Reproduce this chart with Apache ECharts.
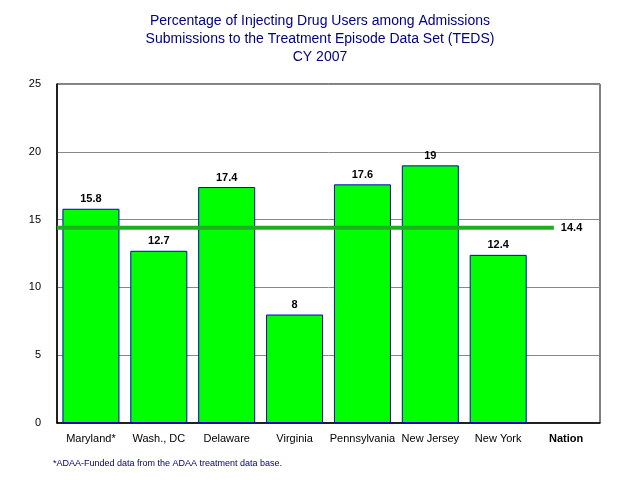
<!DOCTYPE html>
<html>
<head>
<meta charset="utf-8">
<script src="https://cdn.jsdelivr.net/npm/echarts@6/dist/echarts.min.js"></script>
<style>html,body{margin:0;padding:0;background:#fff}#c{width:640px;height:480px}</style>
</head>
<body>
<div id="c"></div>
<script>
const categories = ['Maryland*', 'Wash., DC', 'Delaware', 'Virginia', 'Pennsylvania', 'New Jersey', 'New York', 'Nation'];
const stateValues = [15.8, 12.7, 17.4, 8, 17.6, 19, 12.4, null];
const nationValue = 14.4;
const nationLineSpan = [0, 7.32];
const yTicks = [0, 5, 10, 15, 20, 25];
const titleLines = ['Percentage of Injecting Drug Users among Admissions', 'Submissions to the Treatment Episode Data Set (TEDS)', 'CY 2007'];
const footnote = '*ADAA-Funded data from the ADAA treatment data base.';

const font = 'Arial, "Liberation Sans", sans-serif';
const chart = echarts.init(document.getElementById('c'), null, {renderer: 'canvas'});
chart.setOption({
  animation: false,
  backgroundColor: '#fff',
  title: {
    text: titleLines.join('\n'),
    left: 'center',
    top: 7,
    textStyle: {fontFamily: font, fontSize: 14, fontWeight: 'normal', color: '#000080', lineHeight: 18}
  },
  grid: {left: 57, right: 40, top: 84, bottom: 57, show: true, borderColor: '#000', borderWidth: 1, backgroundColor: 'transparent'},
  xAxis: [{
    type: 'category',
    data: categories,
    axisLine: {show: true, lineStyle: {color: '#000', width: 1.5}},
    axisTick: {show: false},
    axisLabel: {
      interval: 0,
      fontFamily: font, fontSize: 11, color: '#000', margin: 10,
      formatter: v => v === 'Nation' ? '{b|' + v + '}' : v,
      rich: {b: {fontFamily: font, fontSize: 11, fontWeight: 'bold', color: '#000'}}
    }
  }, {
    type: 'value', min: 0, max: categories.length, show: false
  }],
  yAxis: {
    type: 'value', min: yTicks[0], max: yTicks[yTicks.length - 1], interval: 5,
    axisLine: {show: true, lineStyle: {color: '#000', width: 1.5}},
    axisTick: {show: false},
    axisLabel: {fontFamily: font, fontSize: 11, color: '#000', margin: 16},
    splitLine: {lineStyle: {color: '#888', width: 1}}
  },
  graphic: [{
    type: 'text', left: 53, top: 459,
    style: {text: footnote, font: '9px ' + font, fill: '#000080'}
  }],
  series: [{
    type: 'bar',
    data: stateValues,
    barCategoryGap: '16%',
    itemStyle: {color: '#00FF00', borderColor: '#0000CC', borderWidth: 1},
    label: {show: true, position: 'top', distance: 4, fontFamily: font, fontSize: 11, fontWeight: 'bold', color: '#000'},
    z: 2
  }, {
    type: 'line',
    xAxisIndex: 1,
    data: nationLineSpan.map(x => [x, nationValue]),
    symbol: 'none',
    lineStyle: {color: '#1DB01D', width: 4},
    endLabel: {show: true, formatter: () => String(nationValue), fontFamily: font, fontSize: 11, fontWeight: 'bold', color: '#000', distance: 7},
    z: 5
  }]
});
</script>
</body>
</html>
